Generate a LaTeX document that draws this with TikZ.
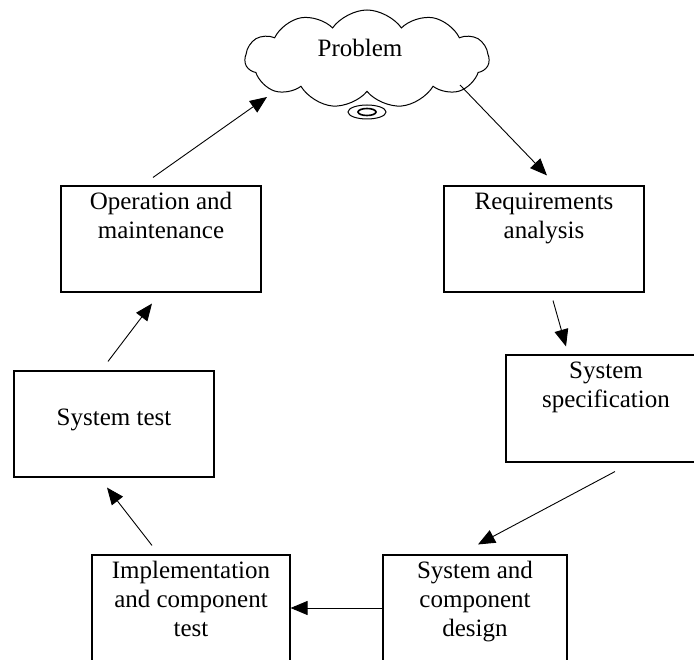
\documentclass[tikz,border=0pt]{standalone}
\usepackage{fontspec}
\setmainfont{Liberation Serif}
\usetikzlibrary{arrows.meta, positioning, shapes.geometric, shapes.symbols}

\tikzset{
  stage/.style={draw, line width=1.1pt, minimum width=200pt, minimum height=106pt, inner sep=0pt},
  caption/.style={inner sep=0pt, align=center, font=\fontsize{25}{29}\selectfont},
  link/.style={-{Triangle[length=17pt,width=14pt]}, line width=0.9pt},
}

\begin{document}
\begin{tikzpicture}[x=1pt, y=-1pt]
  \useasboundingbox (0,0) rectangle (694,660);
  \clip (0,0) rectangle (694,660);

  % Problem cloud
  \node[cloud, draw, line width=1pt, cloud puffs=11, cloud puff arc=110, cloud ignores aspect, minimum width=244pt, minimum height=98pt] (cloud) at (367,59) {};
  \node[caption] (problem) at (360,48) {Problem};
  \node[ellipse, draw, line width=1pt, fill=white, minimum width=38pt, minimum height=14pt, inner sep=0pt] (bubble) at (367,112) {};
  \node[ellipse, draw, line width=1.6pt, minimum width=18pt, minimum height=7pt, inner sep=0pt] (bubblein) at (367,112) {};

  % Stages
  \node[stage] (oper) at (161,239) {};
  \node[stage] (req) at (544,239) {};
  \node[stage, minimum height=107pt] (spec) at (606,408.5) {};
  \node[stage] (systest) at (114,424) {};
  \node[stage, minimum width=198pt] (impl) at (191,608) {};
  \node[stage, minimum width=184pt] (design) at (475,608) {};

  \node[caption, below=7pt of oper.north] (opertxt) {Operation and\\maintenance};
  \node[caption, below=7pt of req.north] (reqtxt) {Requirements\\analysis};
  \node[caption, below=7pt of spec.north] (spectxt) {System\\specification};
  \node[caption] (systesttxt) at ([shift={(0,-4)}]systest.center) {System test};
  \node[caption, below=7pt of impl.north] (impltxt) {Implementation\\and component\\test};
  \node[caption, below=7pt of design.north] (designtxt) {System and\\component\\design};

  % Arrows
  \draw[link] ([shift={(-8,-8)}]oper.north) -- ([shift={(-100,38)}]cloud.center);
  \draw[link] ([shift={(93,26)}]cloud.center) -- ([shift={(3,-10)}]req.north);
  \draw[link] ([shift={(9,8)}]req.south) -- ([shift={(-40,-8)}]spec.north);
  \draw[link] ([shift={(9,9)}]spec.south) -- ([shift={(3,-10)}]design.north);
  \draw[link] (design.west) -- (impl.east);
  \draw[link] ([shift={(-39,-9)}]impl.north) -- ([shift={(-7,10)}]systest.south);
  \draw[link] ([shift={(-6,-9)}]systest.north) -- ([shift={(-9,11)}]oper.south);
\end{tikzpicture}
\end{document}
